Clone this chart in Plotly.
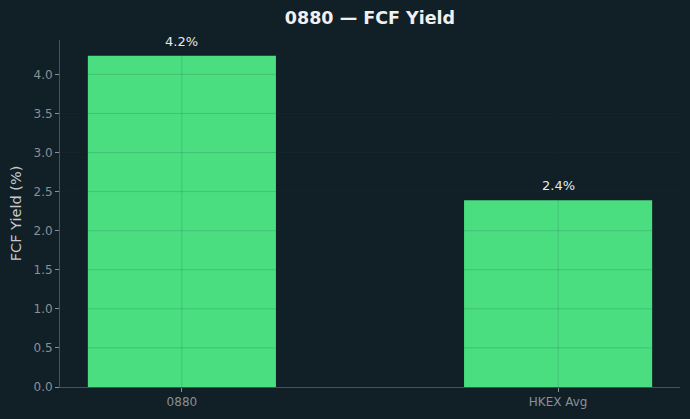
import plotly.graph_objects as go

categories = ["0880", "HKEX Avg"]
fcf_yield = [4.24, 2.39]
bar_labels = ["4.2%", "2.4%"]
y_ticks = [0.0, 0.5, 1.0, 1.5, 2.0, 2.5, 3.0, 3.5, 4.0]

BG = "#111f27"
BAR = "#4ade80"
GRID = "rgba(30,60,62,0.17)"
FONT = "DejaVu Sans"

fig = go.Figure()
fig.add_trace(go.Bar(
    x=[0, 1], y=fcf_yield, width=0.5,
    marker=dict(color=BAR, line=dict(width=0)),
    hoverinfo="skip",
))

for i, (v, t) in enumerate(zip(fcf_yield, bar_labels)):
    fig.add_annotation(x=i, y=v, text=t, showarrow=False, yanchor="bottom",
                       yshift=5, font=dict(family=FONT, size=13, color="#e8e8e8"))

shapes = []
for t in y_ticks[1:]:
    shapes.append(dict(type="line", xref="paper", x0=0, x1=1, yref="y", y0=t, y1=t,
                       line=dict(color=GRID, width=1), layer="above"))
for i in range(len(categories)):
    shapes.append(dict(type="line", xref="x", x0=i, x1=i, yref="paper", y0=0, y1=1,
                       line=dict(color=GRID, width=1), layer="above"))

fig.update_layout(
    width=690, height=419,
    margin=dict(l=60, r=10, t=40, b=32),
    paper_bgcolor=BG, plot_bgcolor=BG,
    showlegend=False,
    shapes=shapes,
    title=dict(text="<b>0880 — FCF Yield</b>", x=370/690, xanchor="center",
               y=1 - 18/419, yanchor="middle",
               font=dict(family=FONT, size=17.5, color="#f0f0f0")),
    font=dict(family=FONT),
    xaxis=dict(range=[-0.324, 1.324], tickmode="array", tickvals=[0, 1],
               ticktext=categories, showgrid=False, zeroline=False,
               showline=True, linecolor="#4a5257", linewidth=1,
               ticks="outside", ticklen=4, tickcolor="#8a9095",
               tickfont=dict(family=FONT, size=12, color="#8a9095")),
    yaxis=dict(range=[0, 4.44], tickmode="array", tickvals=y_ticks,
               ticktext=[f"{t:.1f}" for t in y_ticks], showgrid=False, zeroline=False,
               showline=True, linecolor="#4a5257", linewidth=1,
               ticks="outside", ticklen=4, tickcolor="#8a9095",
               tickfont=dict(family=FONT, size=12, color="#8a9095"),
               title=dict(text="FCF Yield (%)", standoff=8,
                          font=dict(family=FONT, size=14.5, color="#c8c8c8"))),
)

fig.write_html("out.html")
